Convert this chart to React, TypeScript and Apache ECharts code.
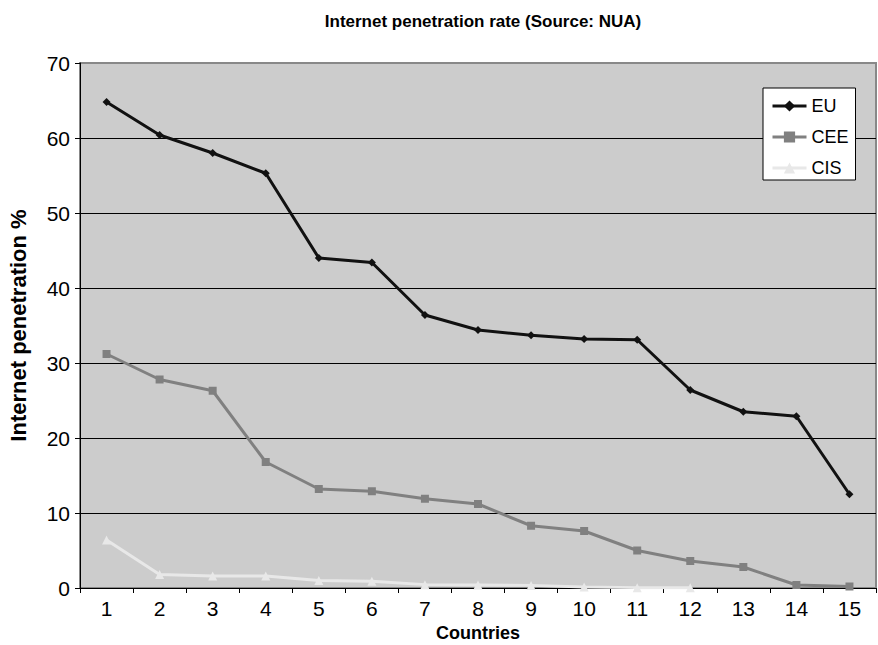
import React, { useEffect, useRef } from "react";
import * as echarts from "echarts";

const categories = ["1", "2", "3", "4", "5", "6", "7", "8", "9", "10", "11", "12", "13", "14", "15"];
const euValues = [64.8, 60.4, 58.0, 55.3, 44.0, 43.4, 36.4, 34.4, 33.7, 33.2, 33.1, 26.4, 23.5, 22.9, 12.5];
const ceeValues = [31.2, 27.8, 26.3, 16.8, 13.2, 12.9, 11.9, 11.2, 8.3, 7.6, 5.0, 3.6, 2.8, 0.4, 0.2];
const cisValues = [6.4, 1.8, 1.6, 1.6, 1.0, 0.9, 0.45, 0.4, 0.35, 0.13, 0.05, 0.05, null, null, null];
const yTicks = { min: 0, max: 70, interval: 10 };

const FONT = "Arial, 'Liberation Sans', sans-serif";

export default function App() {
  const ref = useRef<HTMLDivElement>(null);
  useEffect(() => {
    document.body.style.margin = "0";
    const chart = echarts.init(ref.current!, undefined, { renderer: "svg" });
    chart.setOption({
      animation: false,
      backgroundColor: "#ffffff",
      textStyle: { fontFamily: FONT },
      title: {
        text: "Internet penetration rate (Source: NUA)",
        left: 478,
        top: 8,
        textAlign: "center",
        textStyle: { fontFamily: FONT, fontSize: 17, fontWeight: "bold", color: "#000" },
      },
      legend: {
        orient: "vertical",
        left: 763,
        top: 88,
        padding: [9, 7, 3, 8],
        itemGap: 13,
        itemWidth: 34,
        itemHeight: 14,
        backgroundColor: "#ffffff",
        borderColor: "#000",
        borderWidth: 1,
        borderRadius: 0,
        lineStyle: { width: 3 },
        textStyle: { fontFamily: FONT, fontSize: 18, color: "#000", lineHeight: 18 },
        data: ["EU", "CEE", "CIS"],
      },
      grid: {
        left: 80,
        right: 2,
        top: 63,
        bottom: 57,
        outerBoundsMode: "none",
        containLabel: false,
        show: true,
        backgroundColor: "#cccccc",
        borderColor: "#888888",
        borderWidth: 2,
      },
      xAxis: {
        type: "category",
        data: categories,
        boundaryGap: true,
        name: "Countries",
        nameLocation: "middle",
        nameGap: 36,
        nameMoveOverlap: false,
        nameTextStyle: { fontFamily: FONT, fontSize: 18, fontWeight: "bold", color: "#000" },
        axisLine: { lineStyle: { color: "#000", width: 1 } },
        axisTick: { show: true, alignWithLabel: false, length: 5, lineStyle: { color: "#000" } },
        axisLabel: { fontFamily: FONT, fontSize: 21, color: "#000", margin: 10 },
        splitLine: { show: false },
      },
      yAxis: {
        type: "value",
        min: yTicks.min,
        max: yTicks.max,
        interval: yTicks.interval,
        name: "Internet penetration %",
        nameLocation: "middle",
        nameGap: 51,
        nameRotate: 90,
        nameMoveOverlap: false,
        nameTextStyle: { fontFamily: FONT, fontSize: 22, fontWeight: "bold", color: "#000" },
        axisLine: { show: true, lineStyle: { color: "#000", width: 1 } },
        axisTick: { show: true, length: 5, lineStyle: { color: "#000" } },
        axisLabel: { fontFamily: FONT, fontSize: 21, color: "#000", margin: 10 },
        splitLine: {
          show: true,
          lineStyle: { color: ["#000", "#000", "#000", "#000", "#000", "#000", "#000", "#888"], width: 1 },
        },
      },
      series: [
        {
          name: "EU",
          type: "line",
          data: euValues,
          symbol: "diamond",
          symbolSize: 8,
          lineStyle: { color: "#111", width: 3 },
          itemStyle: { color: "#111" },
          z: 4,
        },
        {
          name: "CEE",
          type: "line",
          data: ceeValues,
          symbol: "rect",
          symbolSize: 8,
          lineStyle: { color: "#808080", width: 3 },
          itemStyle: { color: "#808080" },
          z: 3,
        },
        {
          name: "CIS",
          type: "line",
          data: cisValues,
          symbol: "triangle",
          symbolSize: 9,
          connectNulls: false,
          lineStyle: { color: "#e8e8e8", width: 3 },
          itemStyle: { color: "#e8e8e8" },
          z: 2,
        },
      ],
    });
    return () => chart.dispose();
  }, []);
  return <div ref={ref} style={{ width: 878, height: 645 }} />;
}
